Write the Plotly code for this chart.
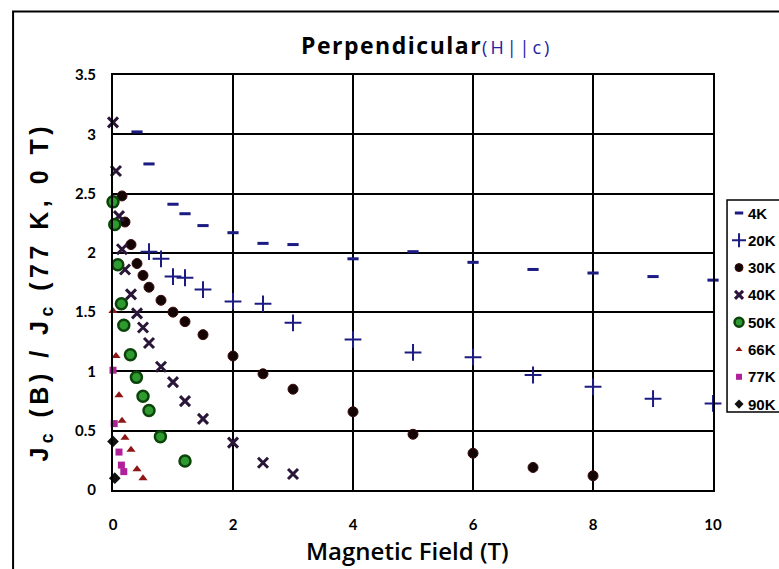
import plotly.graph_objects as go

# Normalised critical current Jc(B)/Jc(77 K, 0 T) versus applied field, H || c
field_4k = [0.4, 0.6, 1.0, 1.2, 1.5, 2.0, 2.5, 3.0, 4.0, 5.0, 6.0, 7.0, 8.0, 9.0, 10.0]
jc_4k = [3.02, 2.75, 2.41, 2.33, 2.23, 2.17, 2.08, 2.07, 1.95, 2.01, 1.92, 1.86, 1.83, 1.80, 1.77]

field_20k = [0.6, 0.8, 1.0, 1.2, 1.5, 2.0, 2.5, 3.0, 4.0, 5.0, 6.0, 7.0, 8.0, 9.0, 10.0]
jc_20k = [2.01, 1.95, 1.80, 1.79, 1.69, 1.59, 1.57, 1.41, 1.27, 1.16, 1.12, 0.97, 0.87, 0.77, 0.73]

field_30k = [0.15, 0.2, 0.3, 0.4, 0.5, 0.6, 0.8, 1.0, 1.2, 1.5, 2.0, 2.5, 3.0, 4.0, 5.0, 6.0, 7.0, 8.0]
jc_30k = [2.48, 2.26, 2.07, 1.91, 1.81, 1.71, 1.60, 1.50, 1.42, 1.31, 1.13, 0.98, 0.85, 0.66, 0.47, 0.31, 0.19, 0.12]

field_40k = [0.0, 0.05, 0.1, 0.15, 0.2, 0.3, 0.4, 0.5, 0.6, 0.8, 1.0, 1.2, 1.5, 2.0, 2.5, 3.0]
jc_40k = [3.10, 2.69, 2.31, 2.03, 1.86, 1.65, 1.49, 1.37, 1.24, 1.04, 0.91, 0.75, 0.60, 0.40, 0.23, 0.135]

field_50k = [0.0, 0.03, 0.08, 0.14, 0.18, 0.29, 0.39, 0.5, 0.6, 0.79, 1.2]
jc_50k = [2.43, 2.24, 1.90, 1.57, 1.39, 1.14, 0.95, 0.79, 0.67, 0.45, 0.245]

field_66k = [0.0, 0.05, 0.1, 0.15, 0.2, 0.3, 0.4, 0.5]
jc_66k = [1.51, 1.13, 0.80, 0.585, 0.44, 0.34, 0.175, 0.10]

field_77k = [0.0, 0.02, 0.1, 0.14, 0.18]
jc_77k = [1.01, 0.56, 0.32, 0.21, 0.155]

field_90k = [0.0, 0.03]
jc_90k = [0.41, 0.10]

x_ticks = [0, 2, 4, 6, 8, 10]
y_ticks = [0, 0.5, 1, 1.5, 2, 2.5, 3, 3.5]
y_tick_text = ["0", "0.5", "1", "1.5", "2", "2.5", "3", "3.5"]

NAVY = "#1b1b82"

series = [
    ("4K", field_4k, jc_4k, dict(symbol="line-ew", size=8, color=NAVY, line=dict(color=NAVY, width=3))),
    ("20K", field_20k, jc_20k, dict(symbol="cross-thin", size=12, color=NAVY, line=dict(color=NAVY, width=2))),
    ("30K", field_30k, jc_30k, dict(symbol="circle", size=10, color="#150404", line=dict(color="#3a0c0c", width=1))),
    ("40K", field_40k, jc_40k, dict(symbol="x-thin", size=10, color="#2a1638", line=dict(color="#2a1638", width=3))),
    ("50K", field_50k, jc_50k, dict(symbol="circle", size=11, color="#2f9a2f", line=dict(color="#0b430b", width=2.5))),
    ("66K", field_66k, jc_66k, dict(symbol="triangle-up", size=8, color="#8e1616", line=dict(width=0))),
    ("77K", field_77k, jc_77k, dict(symbol="square", size=7, color="#b0209a", line=dict(width=0))),
    ("90K", field_90k, jc_90k, dict(symbol="diamond", size=9, color="#111111", line=dict(width=0))),
]

# page geometry in pixels: plot area spans L..R horizontally, T..B vertically
L, R, T, B = 112.5, 713.0, 75.0, 490.0
W, H = 779, 569
# key box: frame edges, symbol column, text column, first row and row pitch
KEY_L, KEY_T, KEY_B = 727, 200, 412
KEY_SYM_X, KEY_TEXT_X, KEY_Y0, KEY_DY = 739, 746, 213, 27.3


def px_x(p):
    # paper spans L..W (no right margin)
    return (p - L) / (W - L)


def px_y(p):
    return (B - p) / (B - T)


fig = go.Figure()
annotations = []
for i, (name, xs, ys, marker) in enumerate(series):
    fig.add_trace(go.Scatter(
        x=xs, y=ys, mode="markers", name=name, marker=marker,
        cliponaxis=False, showlegend=False,
    ))
    row_y = KEY_Y0 + i * KEY_DY
    key_marker = dict(marker)
    key_marker["size"] = max(6, marker["size"] - 2)
    fig.add_trace(go.Scatter(
        x=[KEY_SYM_X], y=[row_y], mode="markers", name=name, marker=key_marker,
        xaxis="x2", yaxis="y2", cliponaxis=False, showlegend=False, hoverinfo="skip",
    ))
    annotations.append(dict(
        text=name, xref="paper", yref="paper", x=px_x(KEY_TEXT_X), y=px_y(row_y),
        xanchor="left", yanchor="middle", showarrow=False,
        font=dict(family="Liberation Sans, Arial", size=15, color="black", weight="bold"),
    ))

tick_font = dict(family="Lato, Liberation Sans", size=15, color="black", weight="bold")

annotations += [
    dict(text="<span style='letter-spacing:1.5px'><b>Perpendicular</b></span>"
              "<span style='color:#2323a0;font-size:18px;letter-spacing:3px'>(H||c)</span>",
         xref="paper", yref="paper", x=px_x(426), y=px_y(45), xanchor="center", yanchor="middle",
         showarrow=False, font=dict(family="Open Sans", size=23, color="black")),
    dict(text="<span style='letter-spacing:4.5px'>J<sub>c</sub> (B) / J<sub>c</sub> (77 K, 0 T)</span>",
         xref="paper", yref="paper", x=px_x(40), y=px_y(292), xanchor="center", yanchor="middle",
         textangle=-90, showarrow=False,
         font=dict(family="Liberation Sans, Arial", size=25, color="black", weight="bold")),
    dict(text="Magnetic Field (T)",
         xref="paper", yref="paper", x=px_x(407), y=px_y(550), xanchor="center", yanchor="middle",
         showarrow=False, font=dict(family="Open Sans", size=24, color="black", weight=600)),
]

fig.update_layout(
    width=W, height=H,
    margin=dict(l=L, r=0, t=T, b=H - B, autoexpand=False),
    paper_bgcolor="white", plot_bgcolor="white",
    showlegend=False,
    xaxis=dict(
        domain=[0, px_x(R)],
        range=[0, 10], tickvals=x_ticks, showgrid=True, gridcolor="black", gridwidth=2,
        showline=True, linecolor="black", linewidth=2, mirror=True, zeroline=False,
        tickfont=tick_font, ticks="", ticklabelstandoff=20,
    ),
    yaxis=dict(
        range=[0, 3.5], tickvals=y_ticks, ticktext=y_tick_text,
        showgrid=True, gridcolor="black", gridwidth=2,
        showline=True, linecolor="black", linewidth=2, mirror=True, zeroline=False,
        tickfont=tick_font, ticks="", ticklabelstandoff=12,
    ),
    # key axes measured in page pixels, holding only the key symbols
    xaxis2=dict(domain=[px_x(KEY_L), 1], range=[KEY_L, W], anchor="y2",
                visible=False, fixedrange=True),
    yaxis2=dict(domain=[px_y(KEY_B), px_y(KEY_T)], range=[KEY_B, KEY_T], anchor="x2",
                visible=False, fixedrange=True),
    shapes=[
        # key frame
        dict(type="rect", xref="paper", yref="paper",
             x0=px_x(KEY_L), x1=px_x(W + 20), y0=px_y(KEY_B), y1=px_y(KEY_T),
             line=dict(color="black", width=1.5)),
        # outer frame
        dict(type="path", xref="paper", yref="paper",
             path=f"M {px_x(12.5)} {px_y(600)} L {px_x(12.5)} {px_y(11.5)} L {px_x(800)} {px_y(11.5)}",
             line=dict(color="black", width=2)),
    ],
    annotations=annotations,
)

fig.write_html("out.html")
